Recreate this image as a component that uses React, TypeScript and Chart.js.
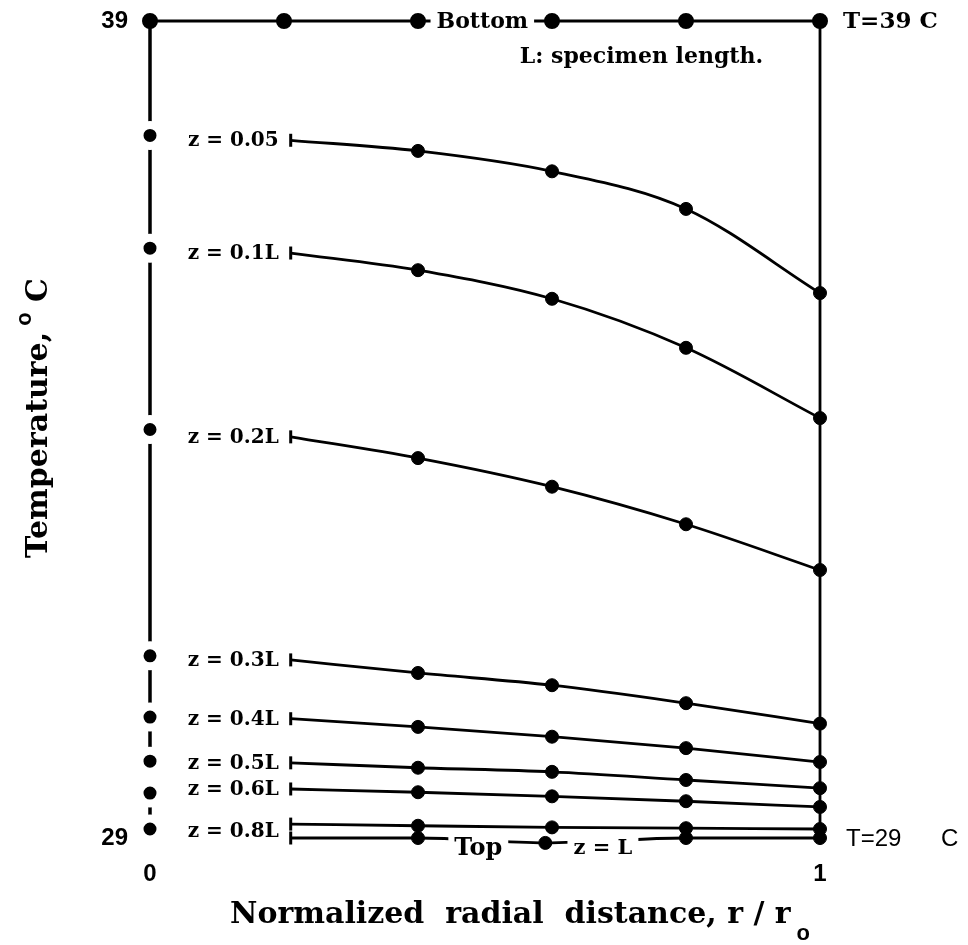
import React, { useEffect, useRef } from 'react';
import { Chart, registerables } from 'chart.js';
Chart.register(...registerables);

// ---- data ----
const xTickValues = [0, 1];
const yTickValues = [29, 39];
const edgeX = [0, 0.2, 0.4, 0.6, 0.8, 1];
const bottomTemps = [39, 39, 39, 39, 39, 39];
const curveX = [0.21, 0.4, 0.6, 0.8, 1];
const curveLabels = ['z = 0.05', 'z = 0.1L', 'z = 0.2L', 'z = 0.3L', 'z = 0.4L', 'z = 0.5L', 'z = 0.6L', 'z = 0.8L'];
const z005 = [37.54, 37.41, 37.16, 36.7, 35.67];
const z01 = [36.16, 35.95, 35.6, 35.0, 34.14];
const z02 = [33.91, 33.65, 33.3, 32.84, 32.28];
const z03 = [31.18, 31.02, 30.87, 30.65, 30.4];
const z04 = [30.46, 30.36, 30.24, 30.1, 29.93];
const z05 = [29.92, 29.86, 29.81, 29.71, 29.61];
const z06 = [29.6, 29.56, 29.51, 29.45, 29.38];
const z08 = [29.17, 29.15, 29.13, 29.12, 29.11];
const zLX = [0.21, 0.4, 0.59, 0.8, 1];
const zL = [29.0, 29.0, 28.94, 29.0, 29.0];
const centerTemps = [37.6, 36.22, 34.0, 31.23, 30.48, 29.94, 29.55, 29.11];
const rightEdgeTemps = [39, 28.92];

const SERIF = '"DejaVu Serif", serif';
const SANS = '"Liberation Sans", Arial, sans-serif';

const curves = [z005, z01, z02, z03, z04, z05, z06, z08];

function curveDataset(xs: number[], ys: number[]) {
  return {
    data: xs.map((x, i) => ({ x, y: ys[i] })),
    showLine: true,
    borderColor: '#000',
    backgroundColor: '#000',
    borderWidth: 2.8,
    cubicInterpolationMode: 'monotone' as const,
    pointStyle: xs.map((_, i) => (i === 0 ? 'line' : 'circle')),
    pointRotation: xs.map((_, i) => (i === 0 ? 90 : 0)),
    pointRadius: xs.map(() => 6.5),
    pointBorderWidth: xs.map((_, i) => (i === 0 ? 3 : 1)),
    pointBackgroundColor: '#000',
    pointBorderColor: '#000',
    clip: false as const,
  };
}

const textPlugin = {
  id: 'texts',
  afterDatasetsDraw(chart: any) {
    const ctx = chart.ctx;
    const xs = chart.scales.x;
    const ys = chart.scales.y;
    const area = chart.chartArea;
    ctx.save();
    ctx.fillStyle = '#000';
    ctx.textBaseline = 'middle';

    // curve labels
    ctx.font = `bold 20px ${SERIF}`;
    ctx.textAlign = 'right';
    curves.forEach((c, i) => {
      const px = xs.getPixelForValue(curveX[0]) - 12;
      let yv = c[0];
      if (i === curves.length - 1) yv = (z08[0] + zL[0]) / 2;
      ctx.fillText(curveLabels[i], px, ys.getPixelForValue(yv) + 1);
    });

    const boxed = (t: string, xv: number, yv: number, font: string) => {
      ctx.font = font;
      const w = ctx.measureText(t).width;
      const cx = xs.getPixelForValue(xv);
      const cy = ys.getPixelForValue(yv);
      ctx.fillStyle = '#fff';
      ctx.fillRect(cx - w / 2 - 6, cy - 11, w + 12, 24);
      ctx.fillStyle = '#000';
      ctx.textAlign = 'center';
      ctx.fillText(t, cx, cy + 1);
    };
    boxed('Bottom', 0.496, 39, `bold 22px ${SERIF}`);
    boxed('Top', 0.49, 28.88, `bold 24px ${SERIF}`);
    boxed('z = L', 0.676, 28.88, `bold 21px ${SERIF}`);

    ctx.textAlign = 'left';
    ctx.font = `bold 22px ${SERIF}`;
    ctx.fillText('L: specimen length.', xs.getPixelForValue(0.552), ys.getPixelForValue(38.56));
    ctx.font = `bold 23px ${SERIF}`;
    ctx.fillText('T=39 C', area.right + 23, ys.getPixelForValue(39) + 1);
    ctx.font = `24px ${SANS}`;
    ctx.fillText('T=29', area.right + 26, ys.getPixelForValue(29) + 1);
    ctx.fillText('C', area.right + 121, ys.getPixelForValue(29) + 1);

    // x title
    ctx.font = `bold 30px ${SERIF}`;
    const xt = 'Normalized  radial  distance, r / r';
    const xw = ctx.measureText(xt).width;
    const xStart = 230;
    ctx.textAlign = 'left';
    ctx.textBaseline = 'alphabetic';
    ctx.fillText(xt, xStart, 923);
    ctx.font = `bold 22px ${SANS}`;
    ctx.fillText('o', xStart + xw + 6, 940);

    // y title
    ctx.save();
    ctx.translate(47, 418);
    ctx.rotate(-Math.PI / 2);
    ctx.font = `bold 30px ${SERIF}`;
    const yt = 'Temperature,';
    const yw = ctx.measureText(yt).width;
    ctx.font = `bold 22px ${SANS}`;
    const ow = ctx.measureText('o').width;
    ctx.font = `bold 30px ${SERIF}`;
    const cw = ctx.measureText(' C').width;
    const total = yw + 6 + ow + cw;
    let p = -total / 2;
    ctx.textAlign = 'left';
    ctx.textBaseline = 'alphabetic';
    ctx.fillText(yt, p, 0);
    p += yw + 6;
    ctx.font = `bold 22px ${SANS}`;
    ctx.fillText('o', p, -16);
    p += ow;
    ctx.font = `bold 30px ${SERIF}`;
    ctx.fillText(' C', p, 0);
    ctx.restore();

    ctx.restore();
  },
};

export default function App() {
  const ref = useRef<HTMLCanvasElement>(null);
  useEffect(() => {
    if (!ref.current) return;
    const datasets: any[] = [];
    // center dots with white halo (index 0 -> drawn on top)
    datasets.push({
      data: centerTemps.map((y) => ({ x: 0, y })),
      showLine: false,
      pointRadius: 10.5,
      pointBorderWidth: 8,
      pointBorderColor: '#fff',
      pointBackgroundColor: '#000',
      clip: false,
    });
    // center (r = 0) vertical line
    datasets.push({
      data: [{ x: 0, y: 39 }, ...centerTemps.map((y) => ({ x: 0, y }))],
      showLine: true,
      borderColor: '#000',
      borderWidth: 3.5,
      pointRadius: 0,
      segment: { borderColor: (c: any) => (c.p0DataIndex === 6 ? 'rgba(0,0,0,0)' : '#000') },
      clip: false,
    });
    // right edge vertical line
    datasets.push({
      data: rightEdgeTemps.map((y) => ({ x: 1, y })),
      showLine: true,
      borderColor: '#000',
      borderWidth: 2.8,
      pointRadius: 0,
      clip: false,
    });
    // bottom (T = 39) line
    datasets.push({
      data: edgeX.map((x, i) => ({ x, y: bottomTemps[i] })),
      showLine: true,
      borderColor: '#000',
      borderWidth: 3,
      pointRadius: 6.5,
      pointBackgroundColor: '#000',
      pointBorderColor: '#000',
      clip: false,
    });
    curves.forEach((c) => datasets.push(curveDataset(curveX, c)));
    datasets.push(curveDataset(zLX, zL));

    const chart = new Chart(ref.current, {
      type: 'scatter',
      data: { datasets },
      options: {
        animation: false,
        responsive: false,
        events: [],
        layout: { padding: { left: 0, top: 21, right: 148, bottom: 0 } },
        plugins: { legend: { display: false }, tooltip: { enabled: false } },
        scales: {
          x: {
            type: 'linear',
            min: 0,
            max: 1,
            afterBuildTicks: (s: any) => {
              s.ticks = xTickValues.map((v) => ({ value: v }));
            },
            afterFit: (s: any) => {
              s.height = 107;
              s.paddingLeft = 0;
              s.paddingRight = 0;
            },
            grid: { display: false, drawTicks: false },
            border: { display: false },
            ticks: {
              padding: 22,
              color: '#000',
              font: { family: SANS, size: 24, weight: 'bold' },
              callback: (v: any) => String(v),
            },
          },
          y: {
            type: 'linear',
            min: 29,
            max: 39,
            afterBuildTicks: (s: any) => {
              s.ticks = yTickValues.map((v) => ({ value: v }));
            },
            afterFit: (s: any) => {
              s.width = 150;
              s.paddingTop = 0;
              s.paddingBottom = 0;
            },
            grid: { display: false, drawTicks: false },
            border: { display: false },
            ticks: {
              padding: 22,
              color: '#000',
              font: { family: SANS, size: 24, weight: 'bold' },
              callback: (v: any) => String(v),
            },
          },
        },
      },
      plugins: [textPlugin],
    } as any);
    return () => chart.destroy();
  }, []);
  return (
    <div style={{ position: 'absolute', left: 0, top: 0, width: 968, height: 945, background: '#fff' }}>
      <canvas ref={ref} width={968} height={945} style={{ width: 968, height: 945, display: 'block' }} />
    </div>
  );
}
